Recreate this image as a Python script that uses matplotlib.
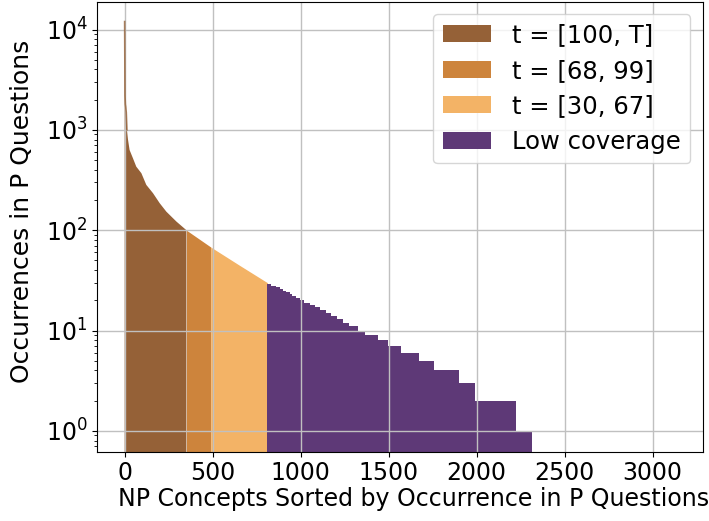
import numpy as np
import matplotlib
matplotlib.use("Agg")
import matplotlib.pyplot as plt
from matplotlib.patches import Patch

# ---- data ----
n_concepts = 3128  # total concepts (tail has zero occurrences)

# head of the sorted distribution (rank, occurrences)
head_rank = [0, 2, 4, 6, 9, 13, 19, 28, 47, 66, 95, 123, 161, 199, 237, 294, 351, 489, 650, 811]
head_count = [12000, 2200, 1800, 1700, 1500, 1000, 800, 630, 522, 430, 370, 283, 234, 186, 153, 122, 100, 68, 45, 30]

# low-coverage tail: integer counts and the rank where each starts
tail_count = [29, 28, 27, 26, 25, 24, 23, 22, 21, 20, 19, 18, 17, 16, 15, 14, 13, 12, 11, 10,
              9, 8, 7, 6, 5, 4, 3, 2, 1]
tail_start = [811, 834, 862, 881, 900, 919, 938, 953, 976, 999, 1018, 1052, 1080, 1109, 1143,
              1175, 1207, 1238, 1277, 1324, 1368, 1437, 1497, 1573, 1671, 1758, 1901, 1990, 2223]
tail_end = 2312

labels = ["t = [100, T]", "t = [68, 99]", "t = [30, 67]", "Low coverage"]
thresholds = [100, 68, 30]
colors = ["#956137", "#cd843c", "#f3b366", "#5e3977"]

plt.rcParams['font.size'] = 17
fig = plt.figure(figsize=(7.09, 5.21), dpi=100)
ax = fig.add_axes([0.137, 0.133, 0.854, 0.864])

hr = np.array(head_rank, dtype=float)
hc = np.array(head_count, dtype=float)
base = 1e-2

# segment limits from the thresholds
seg_bounds = [hr[0]]
for th in thresholds:
    seg_bounds.append(hr[np.where(hc >= th)[0][-1]])
for i in range(3):
    lo, hi = seg_bounds[i], seg_bounds[i + 1]
    m = (hr >= lo) & (hr <= hi)
    ax.fill_between(hr[m], hc[m], base, color=colors[i], linewidth=0)
    if i == 0:
        ax.plot(hr[m][:6], hc[m][:6], color=colors[0], linewidth=1.2, alpha=0.8)

# tail as steps
tx = np.array(tail_start + [tail_end], dtype=float)
ty = np.array(tail_count + [tail_count[-1]], dtype=float)
ax.fill_between(tx, ty, base, step='post', color=colors[3], linewidth=0)

ax.set_yscale('log')
ax.set_xlim(-0.05 * n_concepts, 1.05 * n_concepts)
ax.set_ylim(0.62, 19000)
ax.set_xticks([0, 500, 1000, 1500, 2000, 2500, 3000])
ax.grid(True, color='#c0c0c0', linewidth=1.0)

ax.set_xlabel("NP Concepts Sorted by Occurrence in P Questions")
ax.set_ylabel("Occurrences in P Questions", fontsize=18)
ax.xaxis.set_label_coords(0.522, -0.078)
ax.yaxis.set_label_coords(-0.104, 0.534)

handles = [Patch(facecolor=c, label=l) for c, l in zip(colors, labels)]
ax.legend(handles=handles, loc='upper right', fontsize=17.5, labelspacing=0.47,
          handletextpad=0.85, borderaxespad=0.5)

fig.savefig("out.png", dpi=100)
